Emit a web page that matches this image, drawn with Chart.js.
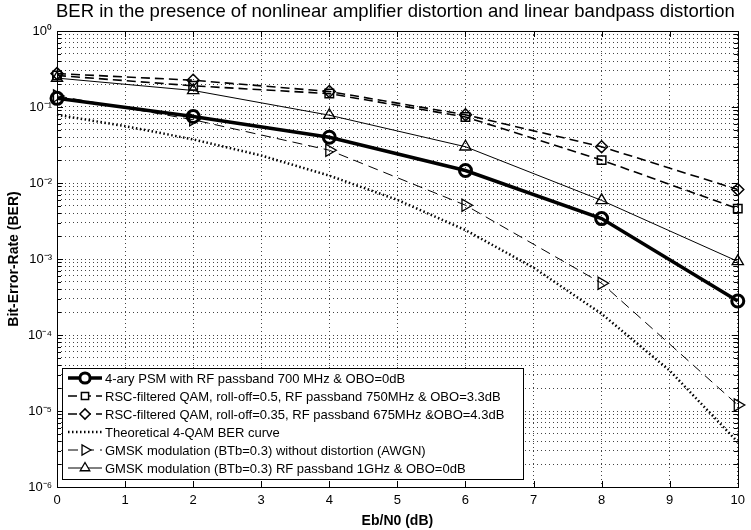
<!DOCTYPE html>
<html><head><meta charset="utf-8">
<script src="https://cdn.jsdelivr.net/npm/chart.js@4/dist/chart.umd.min.js"></script>
<style>html,body{margin:0;padding:0;background:#fff}canvas{display:block}</style>
</head><body>
<canvas id="c" width="751" height="530"></canvas>
<script>
const chartTitle = 'BER in the presence of nonlinear amplifier distortion and linear bandpass distortion';
const xTitle = 'Eb/N0 (dB)';
const yTitle = 'Bit-Error-Rate (BER)';
const xValues = [0, 2, 4, 6, 8, 10];
const theoX = [0, 1, 2, 3, 4, 5, 6, 7, 8, 9, 10];
const psm = [0.13, 0.075, 0.040, 0.0146, 0.0034, 0.00028];
const rsc05 = [0.26, 0.19, 0.150, 0.074, 0.020, 0.0046];
const rsc035 = [0.275, 0.225, 0.160, 0.079, 0.030, 0.0082];
const theo = [0.079, 0.056, 0.0375, 0.023, 0.0125, 0.0060, 0.0024, 0.00077, 0.00019, 0.000034, 0.0000039];
const gmskAwgn = [0.14, 0.068, 0.027, 0.0051, 0.00048, 0.000012];
const gmsk1g = [0.24, 0.165, 0.078, 0.030, 0.0059, 0.00093];
const seriesLabels = [
  '4-ary PSM with RF passband 700 MHz & OBO=0dB',
  'RSC-filtered QAM, roll-off=0.5, RF passband 750MHz & OBO=3.3dB',
  'RSC-filtered QAM, roll-off=0.35, RF passband 675MHz &OBO=4.3dB',
  'Theoretical 4-QAM BER curve',
  'GMSK modulation (BTb=0.3) without distortion (AWGN)',
  'GMSK modulation (BTb=0.3) RF passband 1GHz & OBO=0dB'
];
const xTickValues = [0,1,2,3,4,5,6,7,8,9,10];
const yTickLabels = {'0':'10\u2070','-1':'10\u207B\u00B9','-2':'10\u207B\u00B2','-3':'10\u207B\u00B3','-4':'10\u207B\u2074','-5':'10\u207B\u2075','-6':'10\u207B\u2076'};

const FONT = "'Liberation Sans', Arial, sans-serif";
const pts = (xs, ys) => xs.map((x, i) => ({x: x, y: ys[i]}));

function ds(label, data, o) {
  return Object.assign({
    label: label, data: data, borderColor: '#000', backgroundColor: 'rgba(0,0,0,0)',
    pointBorderColor: '#000', pointBackgroundColor: 'rgba(0,0,0,0)',
    tension: 0, clip: false, fill: false
  }, o);
}

const datasets = [
  ds(seriesLabels[0], pts(xValues, psm), {borderWidth: 3.5, pointStyle: 'circle', pointRadius: 6, pointBorderWidth: 3}),
  ds(seriesLabels[1], pts(xValues, rsc05), {borderWidth: 1.6, borderDash: [9, 5], pointStyle: 'rect', pointRadius: 6, pointBorderWidth: 1.5}),
  ds(seriesLabels[2], pts(xValues, rsc035), {borderWidth: 1.6, borderDash: [9, 5], pointStyle: 'rectRot', pointRadius: 6, pointBorderWidth: 1.5}),
  ds(seriesLabels[3], pts(theoX, theo), {borderWidth: 2.5, borderDash: [1.5, 2.5], pointRadius: 0, pointStyle: false}),
  ds(seriesLabels[4], pts(xValues, gmskAwgn), {borderWidth: 1, borderDash: [10, 6], pointStyle: 'triangle', pointRotation: 90, pointRadius: 7, pointBorderWidth: 1.3}),
  ds(seriesLabels[5], pts(xValues, gmsk1g), {borderWidth: 1, pointStyle: 'triangle', pointRadius: 6.5, pointBorderWidth: 1.3})
];

const gridOpts = {color: '#444', lineWidth: 1, drawTicks: false};

const decor = {
  id: 'decor',
  afterDraw(chart) {
    const ctx = chart.ctx, a = chart.chartArea;
    ctx.save();
    ctx.strokeStyle = '#000'; ctx.lineWidth = 1; ctx.setLineDash([]);
    ctx.strokeRect(Math.round(a.left) + 0.5, Math.round(a.top) + 0.5, Math.round(a.right - a.left), Math.round(a.bottom - a.top));
    const ys = chart.scales.y;
    ys.ticks.forEach(t => {
      const py = Math.round(ys.getPixelForValue(t.value)) + 0.5;
      const major = Math.abs(Math.log10(t.value) - Math.round(Math.log10(t.value))) < 1e-9;
      const len = major ? 6 : 4;
      ctx.beginPath(); ctx.moveTo(a.left, py); ctx.lineTo(a.left + len, py);
      ctx.moveTo(a.right, py); ctx.lineTo(a.right - len, py); ctx.stroke();
    });
    const xs = chart.scales.x;
    xs.ticks.forEach(t => {
      const px = Math.round(xs.getPixelForValue(t.value)) + 0.5;
      ctx.beginPath(); ctx.moveTo(px, a.bottom); ctx.lineTo(px, a.bottom - 6);
      ctx.moveTo(px, a.top); ctx.lineTo(px, a.top + 6); ctx.stroke();
    });
    ctx.fillStyle = '#000'; ctx.font = '18.5px ' + FONT;
    ctx.textAlign = 'center'; ctx.textBaseline = 'middle';
    ctx.fillText(chartTitle, (a.left + a.right) / 2 - 2, 12);
    const L = 62, T = 368, W = 461, H = 111, rowH = 18;
    ctx.fillStyle = '#fff'; ctx.fillRect(L, T, W, H);
    ctx.strokeStyle = '#000'; ctx.lineWidth = 1;
    ctx.strokeRect(L + 0.5, T + 0.5, W, H);
    ctx.font = '13px ' + FONT; ctx.textAlign = 'left'; ctx.textBaseline = 'middle';
    chart.data.datasets.forEach((d, i) => {
      const y = T + 10 + i * rowH;
      ctx.save();
      ctx.strokeStyle = '#000'; ctx.lineWidth = d.borderWidth;
      ctx.setLineDash(d.borderDash || []);
      ctx.beginPath(); ctx.moveTo(L + 6, y); ctx.lineTo(L + 40, y); ctx.stroke();
      ctx.setLineDash([]);
      if (d.pointStyle) {
        ctx.fillStyle = '#fff';
        ctx.lineWidth = d.pointBorderWidth;
        Chart.helpers.drawPoint(ctx, {pointStyle: d.pointStyle, rotation: d.pointRotation || 0, radius: d.pointRadius * 0.85, borderWidth: d.pointBorderWidth}, L + 23, y);
      }
      ctx.restore();
      ctx.fillStyle = '#000';
      ctx.fillText(d.label, L + 43, y + 1);
    });
    ctx.restore();
  }
};

new Chart(document.getElementById('c'), {
  type: 'line',
  data: {datasets: datasets},
  options: {
    responsive: false, animation: false, devicePixelRatio: 1,
    layout: {padding: {top: 31, right: 7, left: 0, bottom: 0}},
    plugins: {legend: {display: false}, title: {display: false}, tooltip: {enabled: false}},
    elements: {line: {tension: 0}},
    scales: {
      x: {
        type: 'linear', min: 0, max: 10,
        afterBuildTicks: s => { s.ticks = xTickValues.map(v => ({value: v})); },
        afterFit: s => { s.height = 43; },
        ticks: {color: '#000', font: {size: 13, family: FONT}, padding: 6, maxRotation: 0, autoSkip: false},
        grid: gridOpts,
        border: {display: false, dash: [1, 3]},
        title: {display: true, text: xTitle, color: '#000', font: {size: 14, weight: 'bold', family: FONT}, padding: {top: 0, bottom: 0}}
      },
      y: {
        type: 'logarithmic', min: 1e-6, max: 1,
        afterBuildTicks: s => {
          const t = [];
          for (let e = -6; e <= 0; e++) {
            for (let m = 1; m <= 9; m++) {
              const v = m * Math.pow(10, e);
              if (v <= 1.0000001) t.push({value: parseFloat(v.toPrecision(6))});
            }
          }
          s.ticks = t;
        },
        afterFit: s => { s.width = 57; },
        ticks: {
          color: '#000', font: {size: 13, family: FONT}, padding: 5, autoSkip: false,
          callback: function (v) {
            const l = Math.log10(v);
            if (Math.abs(l - Math.round(l)) < 1e-9) return yTickLabels[String(Math.round(l))];
            return '';
          }
        },
        grid: gridOpts,
        border: {display: false, dash: [1, 3]},
        title: {display: true, text: yTitle, color: '#000', font: {size: 14, weight: 'bold', family: FONT}, padding: {top: 6, bottom: 0}}
      }
    }
  },
  plugins: [decor]
});
</script>
</body></html>
